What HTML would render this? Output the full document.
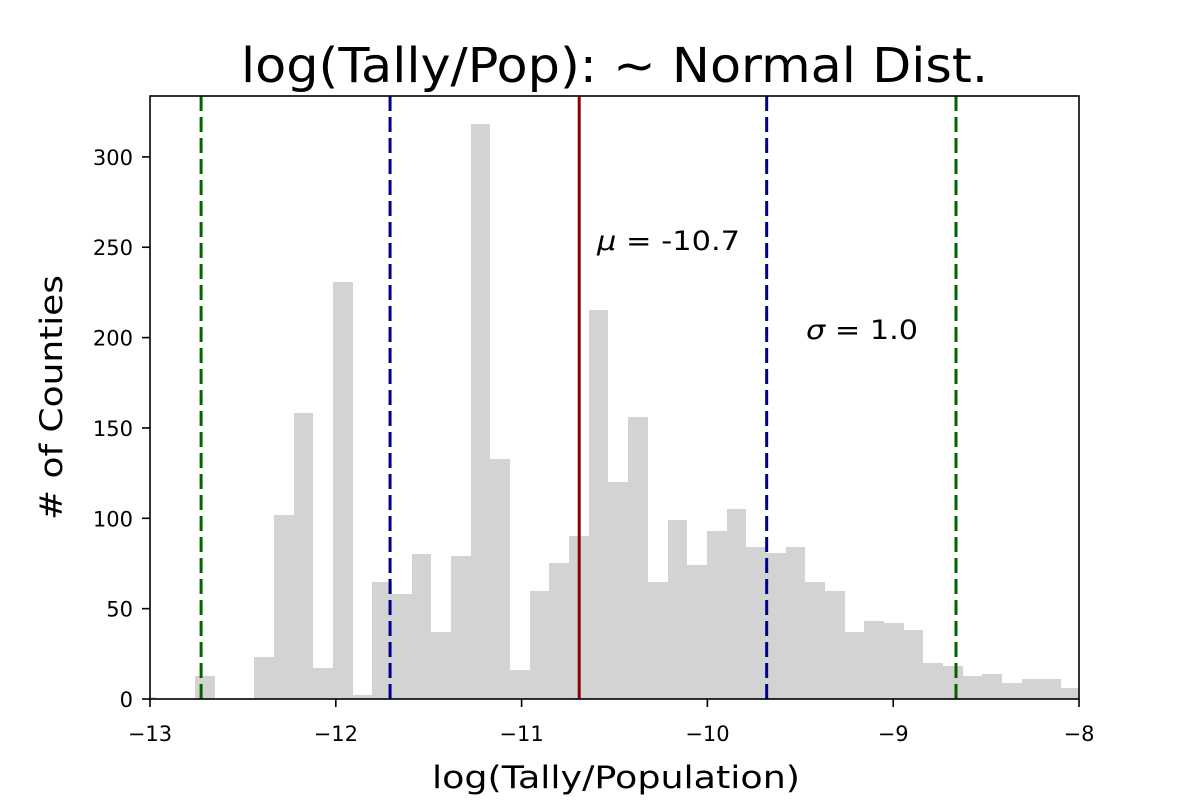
<!DOCTYPE html>
<html><head><meta charset="utf-8"><style>
html,body{margin:0;padding:0;background:#fff;}
svg text{font-family:"DejaVu Sans","Liberation Sans",sans-serif;fill:#000;}
</style></head><body>
<svg id="chart" width="1200" height="800" viewBox="0 0 1200 800" xmlns="http://www.w3.org/2000/svg">
<text x="241" y="82" font-size="48" textLength="747" lengthAdjust="spacingAndGlyphs">log(Tally/Pop): ~ Normal Dist.</text>
<g id="bars" shape-rendering="crispEdges"></g>
<g id="lines"></g>
<rect x="150" y="96" width="929" height="603" fill="none" stroke="#000" stroke-width="1.6"/>
<g id="xticks"></g>
<g id="yticks"></g>
<text x="432" y="788" font-size="31" textLength="368" lengthAdjust="spacingAndGlyphs">log(Tally/Population)</text>
<text transform="translate(62,520) rotate(-90)" font-size="31" textLength="245" lengthAdjust="spacingAndGlyphs"># of Counties</text>
<text x="597" y="250" font-size="27" textLength="143" lengthAdjust="spacingAndGlyphs"><tspan font-style="italic">μ</tspan> = -10.7</text>
<text x="806" y="339" font-size="27" textLength="112" lengthAdjust="spacingAndGlyphs"><tspan font-style="italic">σ</tspan> = 1.0</text>
</svg>
<script>
const binStart = -13.0732;
const binWidth = 0.10587;
const counts = [1,0,0,13,0,0,23,102,158,17,231,2,65,58,80,37,79,318,133,16,60,75,90,215,120,156,65,99,74,93,105,84,81,84,65,60,37,43,42,38,20,18,13,14,9,11,11,6];
const xTicks = [-13,-12,-11,-10,-9,-8];
const yTicks = [0,50,100,150,200,250,300];
const meanVal = -10.69;
const sigma1 = [-11.708,-9.681];
const sigma2 = [-12.725,-8.662];

const NS = "http://www.w3.org/2000/svg";
const X0=150,X1=1079,Y0=699,Y1=96;
const xMin=-13,xMax=-8,yMax=333.7;
function sx(v){return X0+(v-xMin)/(xMax-xMin)*(X1-X0);}
function sy(v){return Y0-v/yMax*(Y0-Y1);}
function mk(tag,attrs,parent){const e=document.createElementNS(NS,tag);for(const k in attrs)e.setAttribute(k,attrs[k]);parent.appendChild(e);return e;}

const bars=document.getElementById('bars');
counts.forEach((c,i)=>{
  if(c<=0)return;
  let a=Math.round(sx(binStart+i*binWidth)), b=Math.round(sx(binStart+(i+1)*binWidth));
  a=Math.max(a,X0); b=Math.min(b,X1);
  const top=Math.round(sy(c));
  const r=mk('rect',{x:a,y:top,width:b-a,height:Y0-top,fill:'#d3d3d3'},bars);
  
  
});

const lines=document.getElementById('lines');
function vline(v,color,dash,name){
  const l=mk('line',{x1:sx(v),x2:sx(v),y1:Y1,y2:Y0,stroke:color,'stroke-width':3},lines);
  if(dash)l.setAttribute('stroke-dasharray',dash);
  
  
}
sigma2.forEach(v=>vline(v,'#006400','15 6','two-sigma-line'));
sigma1.forEach(v=>vline(v,'#00008b','15 6','one-sigma-line'));
vline(meanVal,'#8b0000',null,'mean-line');

const xt=document.getElementById('xticks');
xTicks.forEach(t=>{
  const l=mk('line',{x1:sx(t),x2:sx(t),y1:Y0,y2:Y0+8,stroke:'#000','stroke-width':1.6},xt);
  
  
  const tx=mk('text',{x:sx(t),y:Y0+42,'font-size':21,'text-anchor':'middle'},xt);
  tx.textContent=(t<0?'\u2212'+Math.abs(t):t);
  
  
});
const yt=document.getElementById('yticks');
yTicks.forEach(t=>{
  const l=mk('line',{x1:X0-8,x2:X0,y1:sy(t),y2:sy(t),stroke:'#000','stroke-width':1.6},yt);
  
  
  const tx=mk('text',{x:X0-17,y:sy(t)+8,'font-size':21,'text-anchor':'end'},yt);
  tx.textContent=t;
  
  
});
</script>
</body></html>
